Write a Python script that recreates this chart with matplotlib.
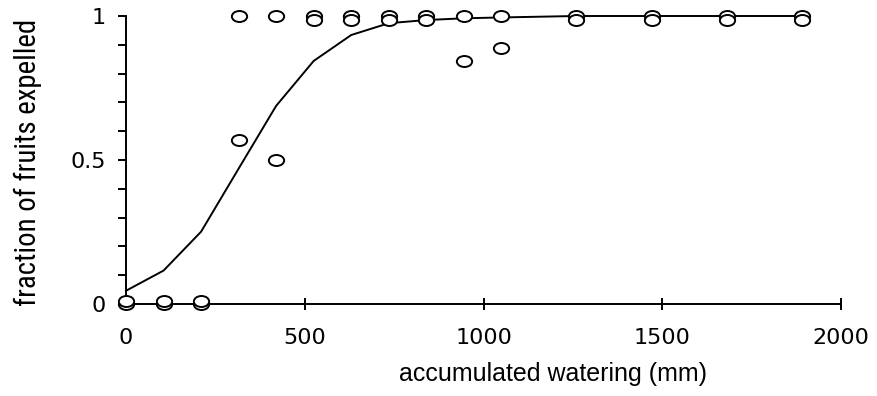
import matplotlib
matplotlib.use("Agg")
import matplotlib.pyplot as plt
from matplotlib import font_manager
from matplotlib.path import Path
from matplotlib.transforms import Affine2D
from matplotlib.ticker import MultipleLocator

# watering (mm) and observed fraction of fruits expelled (two replicates)
watering = [0, 105, 210, 315, 420, 525, 630, 735, 840, 945, 1050, 1260, 1470, 1680, 1890]
rep_a = [0.0, 0.0, 0.0, 1.0, 1.0, 1.0, 1.0, 1.0, 1.0, 1.0, 1.0, 1.0, 1.0, 1.0, 1.0]
rep_b = [0.012, 0.012, 0.012, 0.57, 0.5, 0.985, 0.985, 0.985, 0.985, 0.845, 0.888,
         0.985, 0.985, 0.985, 0.985]
# fitted curve
fit = [0.046, 0.116, 0.251, 0.47, 0.688, 0.844, 0.934, 0.975, 0.986, 0.992, 0.995,
       1.0, 1.0, 1.0, 1.0]

names = {f.name for f in font_manager.fontManager.ttflist}
narrow = None
for cand in ("Liberation Sans Narrow", "DejaVu Sans Condensed", "Roboto Condensed",
             "Open Sans Condensed"):
    if cand in names:
        narrow = cand
        break

fig = plt.figure(figsize=(8.77, 3.96), dpi=100)
ax = fig.add_axes([126 / 877, 92 / 396, 715 / 877, 288 / 396])

# open ellipse marker, a little wider than tall
ellipse = Path.unit_circle().transformed(Affine2D().scale(1.0, 0.72))

ax.plot(watering, fit, color="black", lw=1.4, zorder=2, clip_on=False)
for reps in (rep_a, rep_b):
    ax.plot(watering, reps, ls="none", marker=ellipse, ms=11, mfc="white",
            mec="black", mew=1.4, zorder=3, clip_on=False)

ax.set_xlim(0, 2000)
ax.set_ylim(0, 1)
ax.spines["top"].set_visible(False)
ax.spines["right"].set_visible(False)
for s in ("left", "bottom"):
    ax.spines[s].set_linewidth(1.4)

ax.set_xticks([0, 500, 1000, 1500, 2000])
ax.set_yticks([0, 0.5, 1])
ax.set_yticklabels(["0", "0.5", "1"])
ax.yaxis.set_minor_locator(MultipleLocator(0.1))
ax.tick_params(axis="x", direction="inout", length=8, width=1.4, pad=13,
               labelsize=16, labelfontfamily="DejaVu Sans")
ax.tick_params(axis="y", which="both", direction="out", length=5.5, width=1.4,
               pad=9, labelsize=16, labelfontfamily="DejaVu Sans")

ax.set_xlabel("accumulated watering (mm)", fontsize=18, family="Liberation Sans")
ax.xaxis.set_label_coords(427 / 715, -58 / 288)
if narrow:
    ax.set_ylabel("fraction of fruits expelled", fontsize=20.7, family=narrow)
else:
    ax.set_ylabel("fraction of fruits expelled", fontsize=19.5, family="Liberation Sans")
ax.yaxis.set_label_coords(-84 / 715, 0.493)

fig.savefig("out.png", dpi=100)
